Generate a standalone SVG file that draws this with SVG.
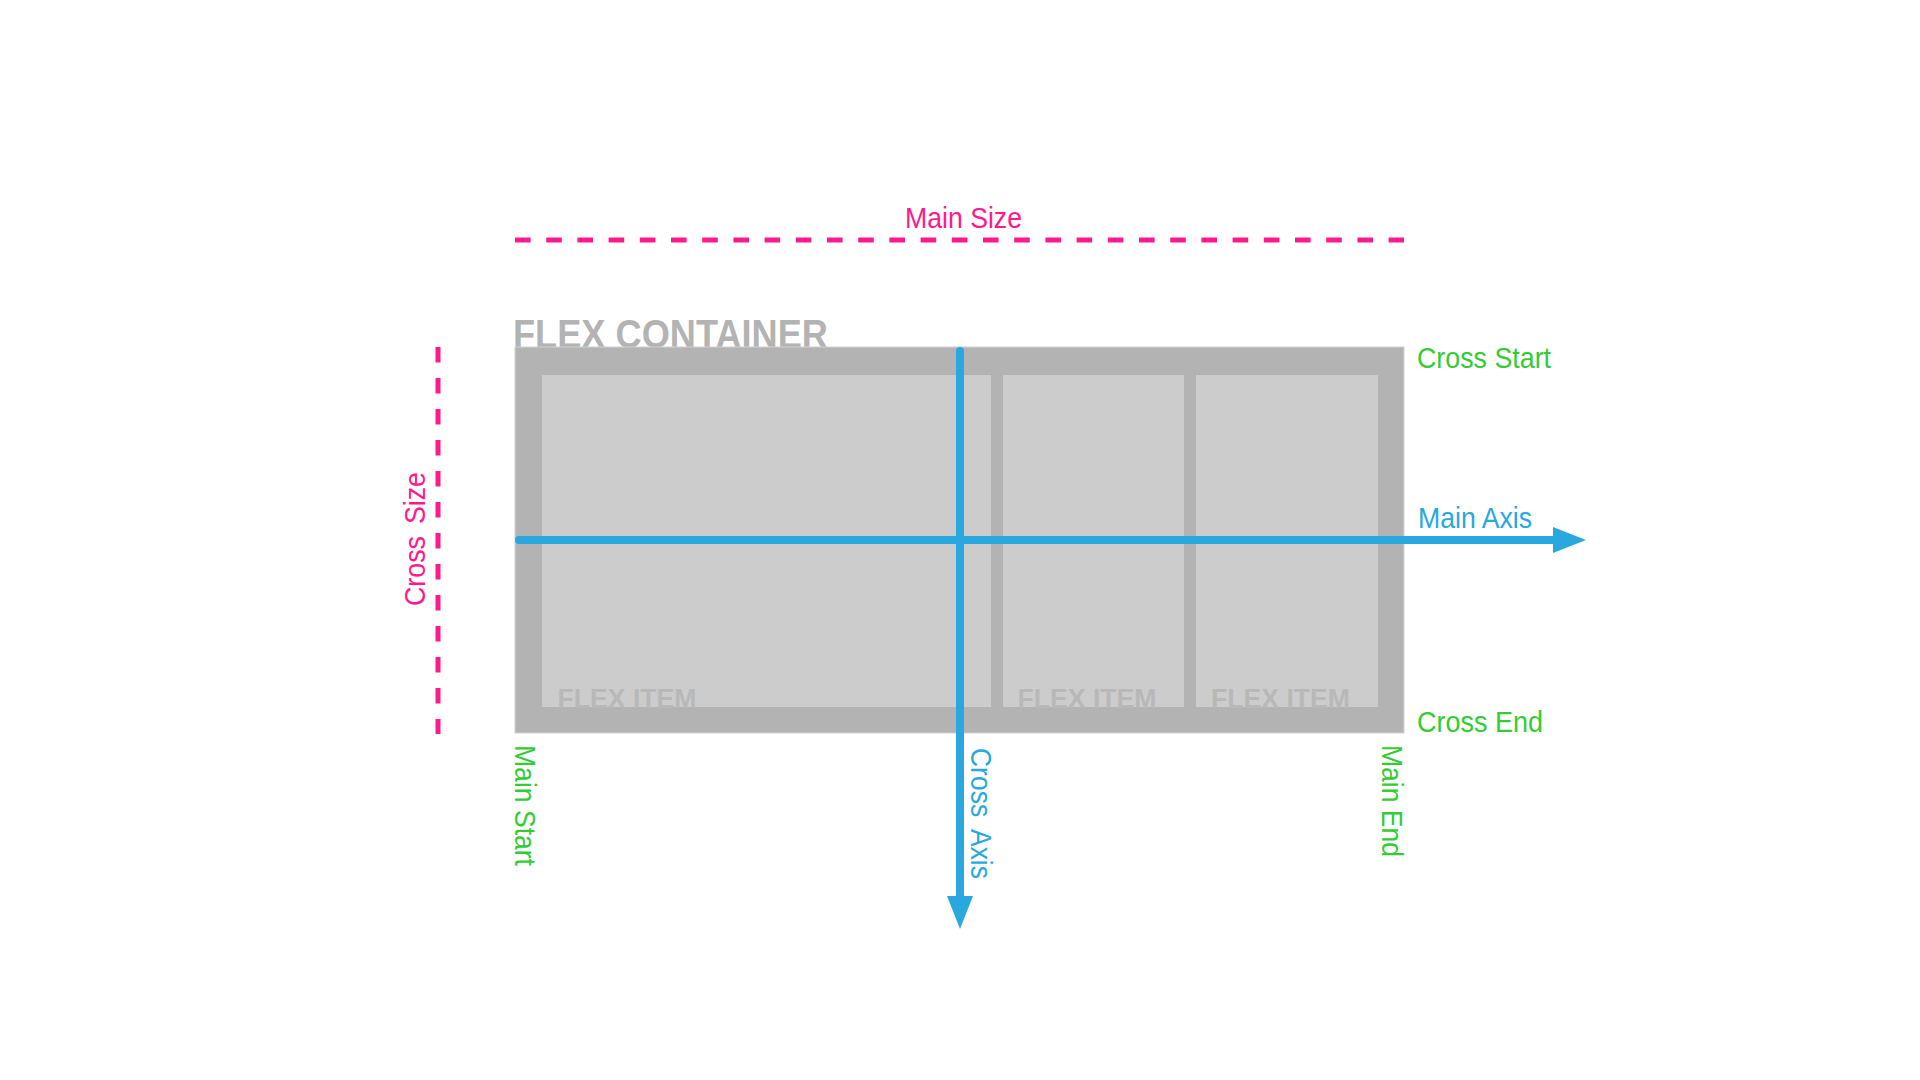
<svg xmlns="http://www.w3.org/2000/svg" width="1920" height="1080" viewBox="0 0 1920 1080">
  <defs>
    <style>
      .lbl { font-family: "Liberation Sans", Arial, sans-serif; font-size: 29px; }
      .pink { fill: #ff1a8c; }
      .green { fill: #33cc33; }
      .blue { fill: #29a8e0; }
      .item { fill: #cccccc; }
      .itemtxt { font-family: "Liberation Sans", Arial, sans-serif; font-size: 27px; font-weight: bold; fill: #b8b8b8; }
      .dash { stroke: #ff1a8c; stroke-width: 5; fill: none; }
      .axis { stroke: #29a8e0; stroke-width: 8; stroke-linecap: round; fill: none; }
    </style>
    <marker id="arrow" markerUnits="userSpaceOnUse" markerWidth="33" markerHeight="26" viewBox="0 0 33 26" refX="0" refY="13" orient="auto">
      <path d="M0,0 L33,13 L0,26 Z" fill="#29a8e0"/>
    </marker>
  </defs>
  <rect x="0" y="0" width="1920" height="1080" fill="#ffffff"/>

  <g id="container">
    <text x="513" y="348" font-family="Liberation Sans, Arial, sans-serif" font-size="40" font-weight="bold" fill="#b3b3b3" textLength="315" lengthAdjust="spacingAndGlyphs">FLEX CONTAINER</text>
    <rect x="515" y="347" width="889" height="386" fill="#b3b3b3" stroke="#d2d2d2" stroke-width="1"/>
  </g>

  <g id="item1">
    <rect class="item" x="542" y="375" width="449" height="332"/>
    <text class="itemtxt" x="557.5" y="708" textLength="139" lengthAdjust="spacingAndGlyphs">FLEX ITEM</text>
  </g>
  <g id="item2">
    <rect class="item" x="1003" y="375" width="181" height="332"/>
    <text class="itemtxt" x="1017.5" y="708" textLength="139" lengthAdjust="spacingAndGlyphs">FLEX ITEM</text>
  </g>
  <g id="item3">
    <rect class="item" x="1196" y="375" width="182" height="332"/>
    <text class="itemtxt" x="1211" y="708" textLength="139" lengthAdjust="spacingAndGlyphs">FLEX ITEM</text>
  </g>

  <g id="connectors">
    <line id="main-size-line" class="dash" x1="515" y1="240" x2="1404" y2="240" stroke-dasharray="15.6 15.6"/>
    <line id="cross-size-line" class="dash" x1="438" y1="347" x2="438" y2="734" stroke-dasharray="15.5 15.5"/>
    <line id="main-axis" class="axis" x1="519" y1="540" x2="1553" y2="540" marker-end="url(#arrow)"/>
    <line id="cross-axis" class="axis" x1="960" y1="351" x2="960" y2="896" marker-end="url(#arrow)"/>
  </g>

  <g id="label-main-size">
    <text class="lbl pink" x="905" y="227.5" textLength="117" lengthAdjust="spacingAndGlyphs">Main Size</text>
  </g>
  <g id="label-cross-size">
    <text class="lbl pink" transform="translate(425,539) rotate(-90)" text-anchor="middle" textLength="134" lengthAdjust="spacingAndGlyphs">Cross<tspan dx="13">Size</tspan></text>
  </g>
  <g id="label-cross-start">
    <text class="lbl green" x="1417" y="367.5" textLength="134" lengthAdjust="spacingAndGlyphs">Cross Start</text>
  </g>
  <g id="label-main-axis">
    <text class="lbl blue" x="1418" y="527.5" textLength="114" lengthAdjust="spacingAndGlyphs">Main Axis</text>
  </g>
  <g id="label-cross-end">
    <text class="lbl green" x="1417" y="731.5" textLength="126" lengthAdjust="spacingAndGlyphs">Cross End</text>
  </g>
  <g id="label-main-start">
    <text class="lbl green" transform="translate(515,745) rotate(90)" textLength="121" lengthAdjust="spacingAndGlyphs">Main Start</text>
  </g>
  <g id="label-main-end">
    <text class="lbl green" transform="translate(1382,745) rotate(90)" textLength="112" lengthAdjust="spacingAndGlyphs">Main End</text>
  </g>
  <g id="label-cross-axis">
    <text class="lbl blue" transform="translate(971,748) rotate(90)" textLength="131" lengthAdjust="spacingAndGlyphs">Cross<tspan dx="13">Axis</tspan></text>
  </g>
</svg>
